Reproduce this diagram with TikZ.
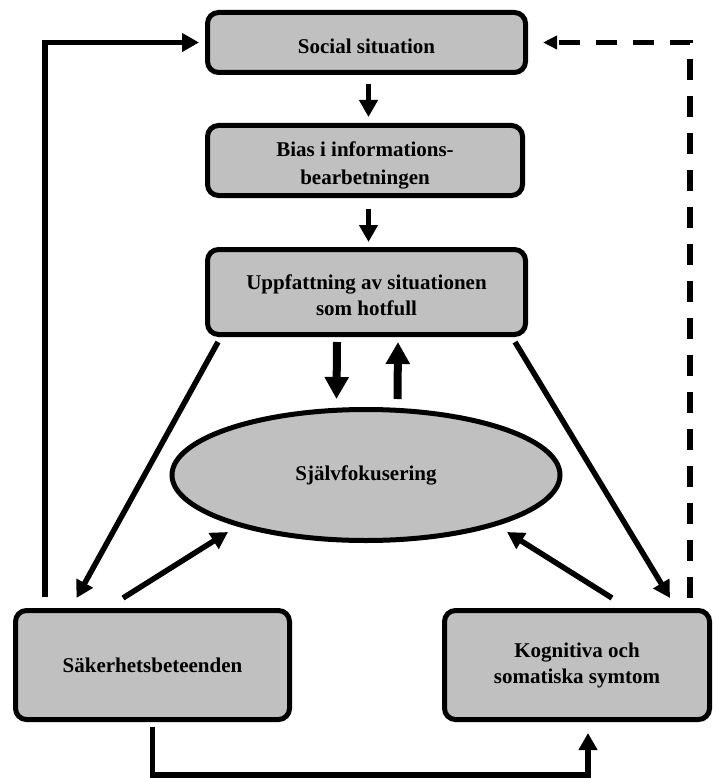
\documentclass[tikz,border=0pt]{standalone}
\usepackage{fontspec}
\setmainfont{Liberation Serif}
\usetikzlibrary{arrows.meta,shapes.geometric,calc}
\definecolor{boxgray}{HTML}{C0C0C0}
\begin{document}
\begin{tikzpicture}[x=1pt,y=-1pt,
  txt/.style={inner sep=0pt,align=center,font=\fontsize{21pt}{26pt}\selectfont\bfseries},
  box/.style={draw,line width=5pt,rounded corners=11pt,fill=boxgray,txt},
  ellbox/.style={draw,line width=5pt,ellipse,fill=boxgray,txt},
  arr/.style={line width=5.5pt,-{Triangle[length=17pt,width=18pt]}},
  bigarr/.style={line width=8pt,-{Triangle[length=22pt,width=23pt]}},
  dasharr/.style={line width=5.5pt,dash pattern=on 21pt off 16pt,-{Triangle[length=14pt,width=13pt]}}
]
\useasboundingbox (0,0) rectangle (712,778);
% nodes
\node[box,minimum width=318pt,minimum height=60pt] (soc) at (366.5,42.5) {};
\node[txt] (soct) at ([yshift=-4pt]soc.center) {Social situation};
\node[box,minimum width=315pt,minimum height=70pt] (bias) at (365,160.5) {};
\node[txt,font=\fontsize{21pt}{28pt}\selectfont\bfseries] (biast) at ([yshift=-5pt]bias.center) {Bias i informations-\\bearbetningen};
\node[box,minimum width=318pt,minimum height=85pt] (upp) at (366.5,292) {};
\node[txt] (uppt) at ([yshift=-3pt]upp.center) {Uppfattning av situationen\\som hotfull};
\node[ellbox,minimum width=388pt,minimum height=131pt] (ell) at (366,475) {Självfokusering};
\node[box,minimum width=274pt,minimum height=109pt] (sak) at (152.5,665) {Säkerhetsbeteenden};
\node[box,minimum width=265pt,minimum height=109pt] (kog) at (577,665) {Kognitiva och\\somatiska symtom};
% coordinates for free ends
\coordinate (sakL) at (45,597);
\coordinate (kogR) at (690,598);
% connectors
\draw[arr,shorten >=6pt] (sakL) |- (soc.west);
\draw[dasharr,shorten >=15pt] (kogR) |- (soc.east);
\draw[arr] ([xshift=2pt,yshift=-9pt]soc.south) -- ([xshift=3.5pt,yshift=6pt]bias.north);
\draw[arr] ([xshift=3.5pt,yshift=-11pt]bias.south) -- ([xshift=2pt,yshift=5pt]upp.north);
\draw[bigarr] ([xshift=-29.5pt,yshift=-5pt]upp.south) -- ([xshift=-29.5pt,yshift=8pt]ell.north);
\draw[bigarr] ([xshift=31.5pt,yshift=8pt]ell.north) -- ([xshift=31.5pt,yshift=-5pt]upp.south);
\draw[arr] ([xshift=13pt,yshift=-5pt]upp.south west) -- ([xshift=-76pt,yshift=10pt]sak.north);
\draw[arr] ([xshift=-29.5pt,yshift=10pt]sak.north) -- ([xshift=-138pt,yshift=-57pt]ell.center);
\draw[arr] ([xshift=-13pt,yshift=-5pt]upp.south east) -- ([xshift=93pt,yshift=10pt]kog.north);
\draw[arr] ([xshift=35pt,yshift=10pt]kog.north) -- ([xshift=141pt,yshift=-57pt]ell.center);
\draw[arr] ([yshift=-5pt]sak.south) -- ++(0,48) -| ([xshift=11pt,yshift=-11pt]kog.south);
\end{tikzpicture}
\end{document}
